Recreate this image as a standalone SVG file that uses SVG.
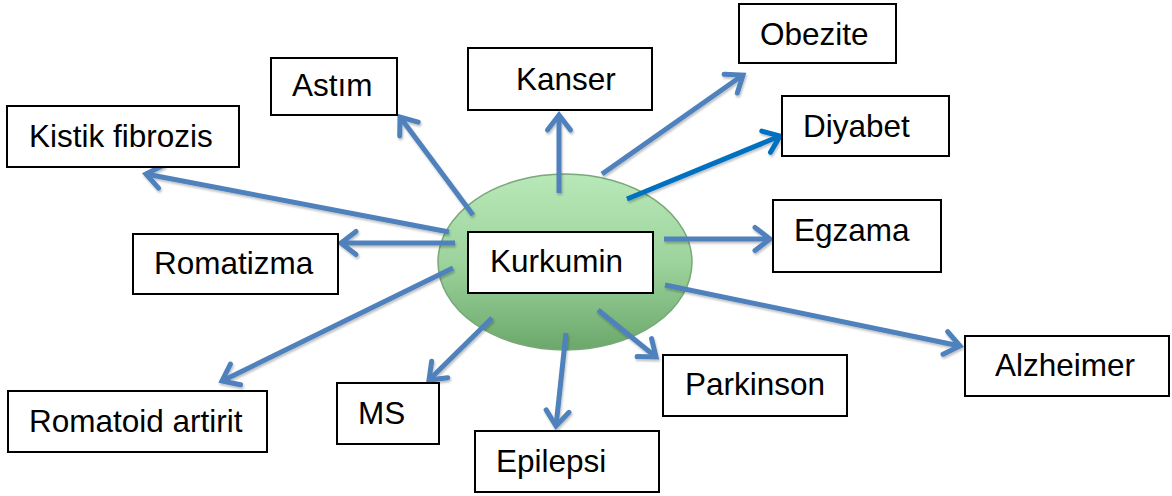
<svg xmlns="http://www.w3.org/2000/svg" width="1172" height="496" viewBox="0 0 1172 496">
<style>
.box{fill:#fff;stroke:#000;stroke-width:2}
.lbl{font-family:"Liberation Sans",Arial,sans-serif;font-size:31.5px;fill:#000}
.con{stroke:#4f81bd;stroke-width:5;fill:none;marker-end:url(#ah)}
.con2{stroke:#0070c0;stroke-width:5;fill:none;marker-end:url(#ah2)}
</style>
<defs>
<linearGradient id="eg" x1="0" y1="0" x2="0" y2="1">
<stop offset="0" stop-color="#b8e8b8"/>
<stop offset="0.5" stop-color="#9dd39c"/>
<stop offset="1" stop-color="#6ba86b"/>
</linearGradient>
<filter id="sh" x="-10%" y="-10%" width="120%" height="120%">
<feDropShadow dx="1" dy="2" stdDeviation="1.2" flood-color="#000" flood-opacity="0.25"/>
</filter>
<marker id="ah" markerUnits="userSpaceOnUse" markerWidth="40" markerHeight="40" viewBox="-25 -20 40 40" refX="0" refY="0" orient="auto" overflow="visible">
<path d="M-15,-11.5 L0,0 L-15,11.5" fill="none" stroke="#4f81bd" stroke-width="5" stroke-linecap="round" stroke-linejoin="miter"/>
</marker>
<marker id="ah2" markerUnits="userSpaceOnUse" markerWidth="40" markerHeight="40" viewBox="-25 -20 40 40" refX="0" refY="0" orient="auto" overflow="visible">
<path d="M-15,-11.5 L0,0 L-15,11.5" fill="none" stroke="#0070c0" stroke-width="5" stroke-linecap="round" stroke-linejoin="miter"/>
</marker>
</defs>
<g id="center-ellipse">
<ellipse cx="565" cy="262" rx="127" ry="88" fill="url(#eg)" stroke="#79a879" stroke-width="1.5"/>
</g>
<g id="connectors" filter="url(#sh)">
<line class="con" x1="449" y1="232" x2="146" y2="174"/>
<line class="con" x1="455" y1="243" x2="341" y2="243"/>
<line class="con" x1="453" y1="268" x2="222" y2="381"/>
<line class="con" x1="492" y1="318" x2="429" y2="380"/>
<line class="con" x1="566" y1="333" x2="556" y2="426"/>
<line class="con" x1="598" y1="310" x2="656" y2="357"/>
<line class="con" x1="665" y1="285" x2="960" y2="346"/>
<line class="con" x1="664" y1="239" x2="770" y2="239"/>
<line class="con2" x1="627" y1="199" x2="780" y2="136"/>
<line class="con" x1="602" y1="174" x2="743" y2="75"/>
<line class="con" x1="559" y1="193" x2="559" y2="115"/>
<line class="con" x1="473" y1="215" x2="400" y2="117"/>
</g>
<g id="node-kurkumin"><rect class="box" x="468" y="232" width="185" height="61"/><text class="lbl" x="490" y="272">Kurkumin</text></g>
<g id="node-kistik"><rect class="box" x="7" y="106" width="232" height="61"/><text class="lbl" x="29" y="147">Kistik fibrozis</text></g>
<g id="node-astim"><rect class="box" x="271" y="58" width="126" height="57"/><text class="lbl" x="292" y="96">Astım</text></g>
<g id="node-kanser"><rect class="box" x="468" y="48" width="184" height="62"/><text class="lbl" x="516" y="90">Kanser</text></g>
<g id="node-obezite"><rect class="box" x="739" y="4" width="157" height="59"/><text class="lbl" x="760" y="45">Obezite</text></g>
<g id="node-diyabet"><rect class="box" x="782" y="96" width="167" height="60"/><text class="lbl" x="803" y="137">Diyabet</text></g>
<g id="node-egzama"><rect class="box" x="773" y="200" width="168" height="72"/><text class="lbl" x="794" y="241">Egzama</text></g>
<g id="node-romatizma"><rect class="box" x="133" y="234" width="205" height="60"/><text class="lbl" x="154" y="274">Romatizma</text></g>
<g id="node-alzheimer"><rect class="box" x="965" y="336" width="204" height="60"/><text class="lbl" x="995" y="376">Alzheimer</text></g>
<g id="node-parkinson"><rect class="box" x="663" y="355" width="184" height="61"/><text class="lbl" x="685" y="395">Parkinson</text></g>
<g id="node-romatoid"><rect class="box" x="8" y="391" width="259" height="61"/><text class="lbl" x="29" y="432">Romatoid artirit</text></g>
<g id="node-ms"><rect class="box" x="337" y="383" width="102" height="61"/><text class="lbl" x="358" y="424">MS</text></g>
<g id="node-epilepsi"><rect class="box" x="475" y="431" width="184" height="61"/><text class="lbl" x="496" y="472">Epilepsi</text></g>
</svg>
